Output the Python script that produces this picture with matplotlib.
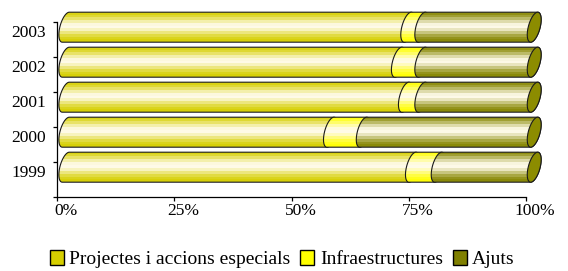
import numpy as np
import matplotlib
matplotlib.use("Agg")
import matplotlib.pyplot as plt
from matplotlib.path import Path
from matplotlib.patches import PathPatch, Patch
from matplotlib.transforms import ScaledTranslation

# data (share of each year, %)
years = ["1999", "2000", "2001", "2002", "2003"]
projectes = [74.0, 56.5, 72.5, 71.0, 73.0]
infraestructures = [5.5, 7.0, 3.5, 5.0, 3.0]
ajuts = [20.5, 36.5, 24.0, 24.0, 24.0]
series_names = ["Projectes i accions especials", "Infraestructures", "Ajuts"]
x_ticks = [0, 25, 50, 75, 100]
x_labels = ["0%", "25%", "50%", "75%", "100%"]

colors = ["#D6CF00", "#FFFF00", "#868600"]
cap_color = "#8C8C00"
light = np.array([1.0, 0.985, 0.92])

plt.rcParams["font.family"] = ["Liberation Serif", "DejaVu Serif"]

W, H = 568, 271
XPX = 4.684   # px per percent
YPX = 35.0    # px per category
fig = plt.figure(figsize=(W / 100, H / 100), dpi=100)
ax = fig.add_axes([57.3 / W, (H - 196.5) / H, 106 * XPX / W, 5.4 * YPX / H])

# pseudo-3d geometry (data units)
DX = 8.5 / XPX
DY = 11.8 / YPX
A = 6 / XPX
S = 3.5 / XPX
B = 15 / YPX


def seg_path(x0, x1, yc):
    t1 = np.linspace(np.pi / 2, 3 * np.pi / 2, 40)
    t2 = np.linspace(-np.pi / 2, np.pi / 2, 40)
    left = np.column_stack([x0 + A * np.cos(t1) + S * np.sin(t1), yc + B * np.sin(t1)])
    right = np.column_stack([x1 + A * np.cos(t2) + S * np.sin(t2), yc + B * np.sin(t2)])
    verts = np.vstack([left, right, left[:1]])
    codes = [Path.MOVETO] + [Path.LINETO] * (len(verts) - 2) + [Path.CLOSEPOLY]
    return Path(verts, codes)


def gradient(color, n=30, bands=11):
    # row 0 = top of the cylinder
    base = np.array(matplotlib.colors.to_rgb(color))
    f = (np.arange(n) + 0.5) / n
    fq = np.floor(f * bands) / bands + 0.5 / bands
    w = np.exp(-((fq - 0.47) / 0.27) ** 2)
    img = base[None, :] * (1 - w[:, None]) + light[None, :] * w[:, None]
    return img[:, None, :]


z = 2
for i, yr in enumerate(years):
    yc = i + DY
    vals = [projectes[i], infraestructures[i], ajuts[i]]
    start = 0.0
    for k, v in enumerate(vals):
        x0 = start + DX
        x1 = start + v + DX
        path = seg_path(x0, x1, yc)
        patch = PathPatch(path, facecolor="none", edgecolor="#1a1a1a", lw=0.8,
                          zorder=z + 1, clip_on=False)
        ax.add_patch(patch)
        im = ax.imshow(gradient(colors[k]), extent=[x0 - 3, x1 + 3, yc - B, yc + B],
                       origin="upper", aspect="auto", interpolation="nearest", zorder=z)
        im.set_clip_path(patch)
        z += 2
        start += v
    # end cap
    t = np.linspace(0, 2 * np.pi, 80)
    xe = start + DX
    cap = np.column_stack([xe + A * np.cos(t) + S * np.sin(t), yc + B * np.sin(t)])
    ax.add_patch(PathPatch(Path(cap, closed=True), facecolor=cap_color,
                           edgecolor="#1a1a1a", lw=0.8, zorder=z, clip_on=False))
    z += 2

ax.set_xlim(0, 106)
ax.set_ylim(-0.5, 4.9)

for side in ["top", "right"]:
    ax.spines[side].set_visible(False)
ax.spines["bottom"].set_bounds(0, 100)
ax.spines["left"].set_bounds(-0.5, 4.5)
for side in ["bottom", "left"]:
    ax.spines[side].set_linewidth(0.9)

ax.set_xticks(x_ticks)
ax.set_xticklabels(x_labels, fontsize=12.5)
ax.tick_params(axis="x", direction="out", length=3, width=0.9, pad=1.5)
ax.set_yticks(np.arange(-0.5, 5.0, 1.0))
ax.set_yticklabels([])
ax.tick_params(axis="y", which="major", direction="out", length=2.6, width=0.9)
ax.set_yticks(np.arange(len(years)), minor=True)
ax.set_yticklabels(years, minor=True, fontsize=12.5)
ax.tick_params(axis="y", which="minor", length=0, pad=8)

for lab in ax.get_xticklabels():
    lab.set_transform(lab.get_transform() + ScaledTranslation(9 / 100, 0, fig.dpi_scale_trans))
for lab in ax.get_yticklabels(minor=True):
    lab.set_transform(lab.get_transform() + ScaledTranslation(0, 8 / 100, fig.dpi_scale_trans))

legend_colors = ["#D6CF00", "#FFFF00", "#808000"]
handles = [Patch(facecolor=c, edgecolor="black", lw=1.0) for c in legend_colors]
fig.legend(handles, series_names, loc="center left", bbox_to_anchor=(50 / W, 1 - 259 / H),
           ncol=3, frameon=False, fontsize=14, borderaxespad=0, borderpad=0,
           handlelength=0.72, handleheight=0.78, handletextpad=0.28, columnspacing=0.5)

fig.savefig("out.png", dpi=100)
